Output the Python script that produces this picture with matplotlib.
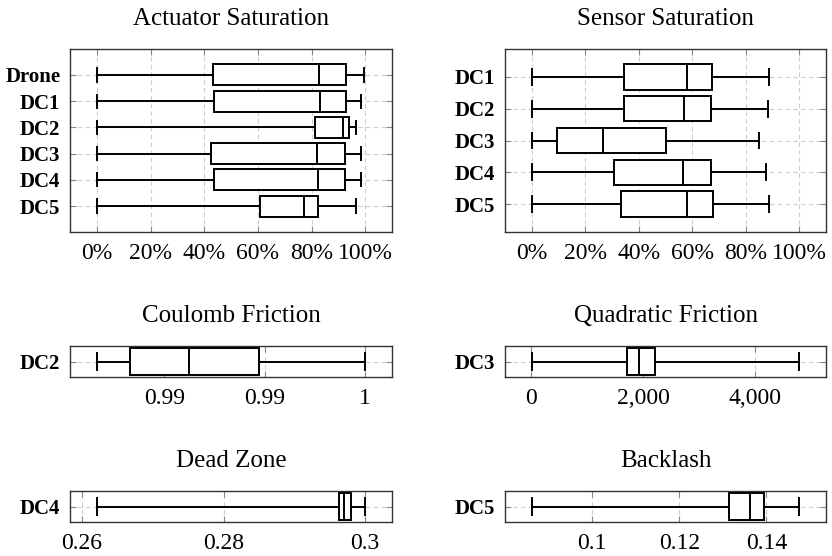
import matplotlib
matplotlib.use("Agg")
import matplotlib.pyplot as plt

plt.rcParams['font.family'] = ['Liberation Serif', 'DejaVu Serif']

# ---- data (fractions / raw values) ----
# each stat list: [whisker low, q1, median, q3, whisker high]
act_names = ["Drone", "DC1", "DC2", "DC3", "DC4", "DC5"]
act_stats = [
    [0.0, 0.433, 0.827, 0.928, 0.996],
    [0.0, 0.438, 0.831, 0.930, 0.984],
    [0.0, 0.812, 0.917, 0.938, 0.967],
    [0.0, 0.426, 0.820, 0.926, 0.985],
    [0.0, 0.436, 0.825, 0.926, 0.985],
    [0.0, 0.607, 0.773, 0.823, 0.967],
]
sen_names = ["DC1", "DC2", "DC3", "DC4", "DC5"]
sen_stats = [
    [0.0, 0.345, 0.579, 0.674, 0.886],
    [0.0, 0.345, 0.571, 0.670, 0.885],
    [0.0, 0.094, 0.266, 0.500, 0.850],
    [0.0, 0.306, 0.566, 0.670, 0.876],
    [0.0, 0.335, 0.579, 0.679, 0.886],
]
pct_ticks = [0.0, 0.2, 0.4, 0.6, 0.8, 1.0]
pct_labels = ["0%", "20%", "40%", "60%", "80%", "100%"]

coul_stats = [0.98664, 0.98828, 0.99123, 0.99472, 1.0]
coul_ticks = [0.99, 0.995, 1.0]
coul_labels = ["0.99", "0.99", "1"]

quad_stats = [5.0, 1701.0, 1926.0, 2199.0, 4782.0]
quad_ticks = [0, 2000, 4000]
quad_labels = ["0", "2,000", "4,000"]

dead_stats = [0.2621, 0.29624, 0.29695, 0.29803, 0.30]
dead_ticks = [0.26, 0.28, 0.30]
dead_labels = ["0.26", "0.28", "0.3"]

back_stats = [0.08616, 0.13141, 0.13620, 0.13939, 0.14753]
back_ticks = [0.10, 0.12, 0.14]
back_labels = ["0.1", "0.12", "0.14"]


def to_bxp(s, name):
    return dict(whislo=s[0], q1=s[1], med=s[2], q3=s[3], whishi=s[4],
                label=name, fliers=[])


def draw(ax, stats, names, ticks, labels, title, ymargin):
    n = len(stats)
    pos = list(range(1, n + 1))
    bstats = [to_bxp(s, nm) for s, nm in zip(stats, names)]
    lw = 1.4
    ax.bxp(bstats, positions=pos, orientation='horizontal', widths=0.8,
           capwidths=0.5, showfliers=False, patch_artist=True,
           boxprops=dict(facecolor='white', edgecolor='black', linewidth=lw),
           medianprops=dict(color='black', linewidth=lw),
           whiskerprops=dict(color='black', linewidth=lw),
           capprops=dict(color='black', linewidth=lw), zorder=3)
    # x range = data range enlarged by 10 %
    lo = min(s[0] for s in stats)
    hi = max(s[4] for s in stats)
    if title.endswith("Saturation"):
        lo, hi = 0.0, 1.0
    d = 0.1 * (hi - lo)
    ax.set_xlim(lo - d, hi + d)
    ax.set_ylim(n + ymargin, 1 - ymargin)
    ax.set_xticks(ticks)
    ax.set_xticklabels(labels, fontsize=17)
    ax.set_yticks(pos)
    ax.set_yticklabels(names, fontsize=15, fontweight='bold')
    ax.grid(True, linestyle=(0, (4, 3)), color='#cccccc', linewidth=0.8,
            zorder=0)
    ax.set_axisbelow(True)
    ax.tick_params(axis='both', direction='in', length=4, color='#888888',
                   top=True, right=True)
    ax.tick_params(axis='x', pad=8)
    ax.tick_params(axis='y', pad=7)
    for sp in ax.spines.values():
        sp.set_color('#333333')
        sp.set_linewidth(1.0)
    ax.set_title(title, fontsize=18, pad=17)


fig = plt.figure(figsize=(8.32, 5.56), dpi=100)
W, H = 832.0, 556.0


def add_ax(left, top, right, bottom):
    return fig.add_axes([left / W, 1 - bottom / H, (right - left) / W,
                         (bottom - top) / H])


ax1 = add_ax(70, 49, 392, 232)
draw(ax1, act_stats, act_names, pct_ticks, pct_labels,
     "Actuator Saturation", 0.99)
ax2 = add_ax(505, 49, 826, 232)
draw(ax2, sen_stats, sen_names, pct_ticks, pct_labels,
     "Sensor Saturation", 0.875)
ax3 = add_ax(70, 346, 392, 377)
draw(ax3, [coul_stats], ["DC2"], coul_ticks, coul_labels,
     "Coulomb Friction", 0.465)
ax4 = add_ax(505, 346, 826, 377)
draw(ax4, [quad_stats], ["DC3"], quad_ticks, quad_labels,
     "Quadratic Friction", 0.465)
ax5 = add_ax(70, 491, 392, 522)
draw(ax5, [dead_stats], ["DC4"], dead_ticks, dead_labels,
     "Dead Zone", 0.465)
ax6 = add_ax(505, 491, 826, 522)
draw(ax6, [back_stats], ["DC5"], back_ticks, back_labels,
     "Backlash", 0.465)

fig.savefig("out.png", dpi=100)
